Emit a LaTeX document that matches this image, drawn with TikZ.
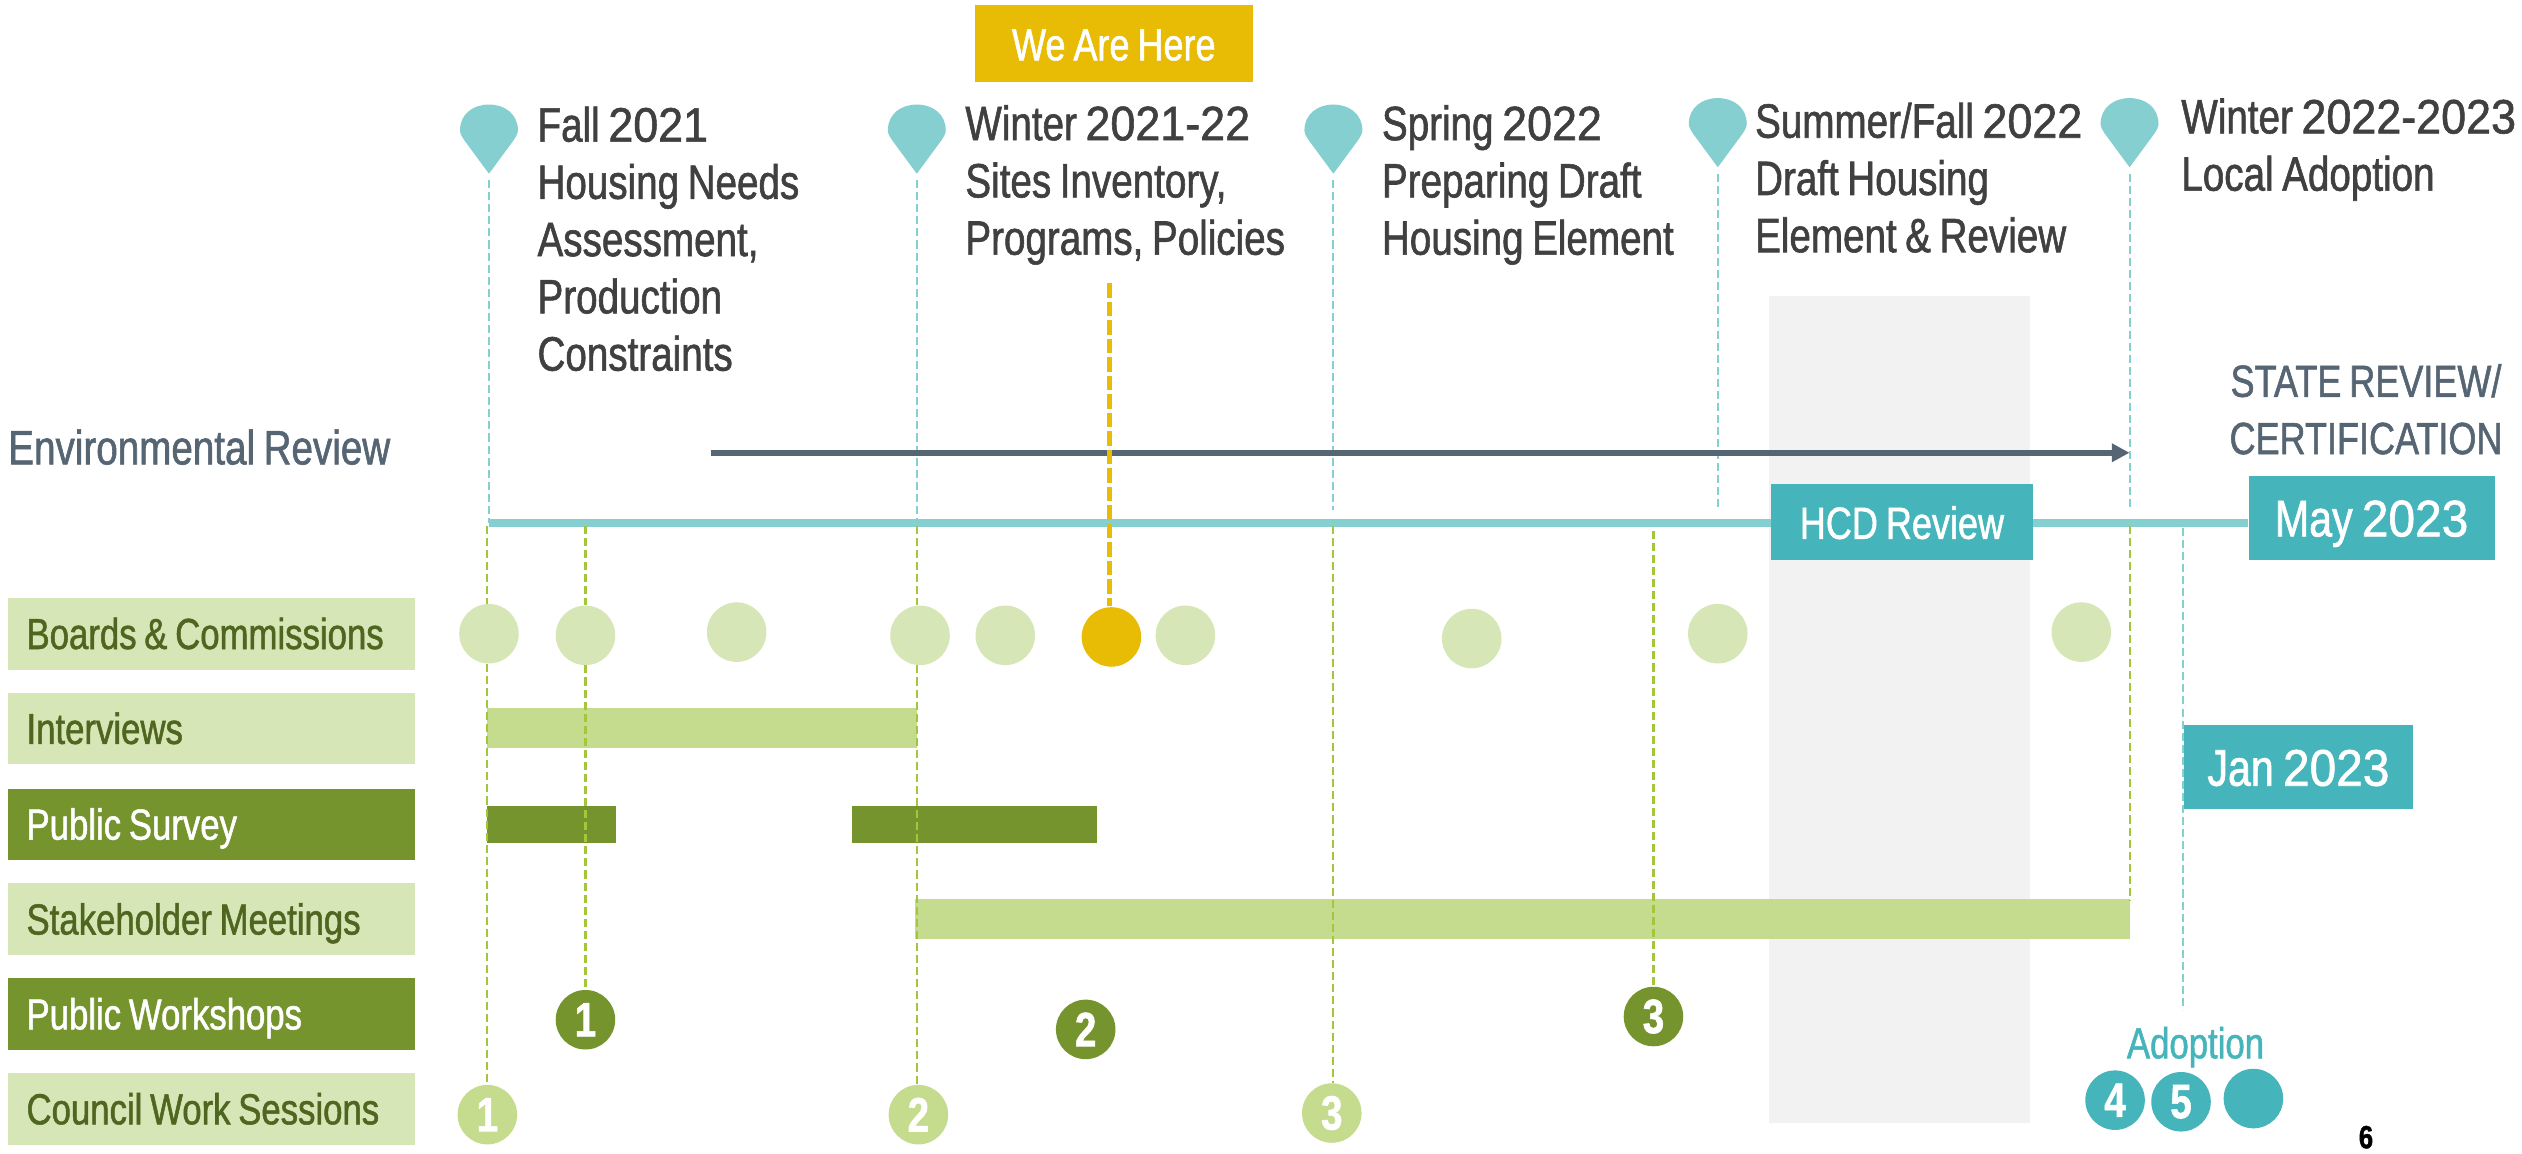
\documentclass[tikz,border=0pt]{standalone}
\usepackage{fontspec}
\setmainfont[FakeStretch=0.8,FakeBold=1.2,WordSpace=0.8]{Liberation Sans}
\newfontfamily\yearfont[FakeStretch=0.93,FakeBold=1.2]{Liberation Sans}
\newcommand{\yr}[1]{{\yearfont #1}}
\newcommand{\rowtext}[1]{\makebox[230pt][l]{#1}}
\usepackage{tikz}
\usetikzlibrary{arrows.meta}
\definecolor{pinteal}{HTML}{85CFD0}
\definecolor{boxteal}{HTML}{46B5BB}
\definecolor{slategrey}{HTML}{566573}
\definecolor{darktext}{HTML}{404040}
\definecolor{herebox}{HTML}{E8BC05}
\definecolor{palegreen}{HTML}{D7E6B6}
\definecolor{midgreen}{HTML}{C5DB8E}
\definecolor{darkgreen}{HTML}{76942D}
\definecolor{rowtext}{HTML}{4F6620}
\definecolor{limeline}{HTML}{A3C63C}
\tikzset{
  x=1pt,y=-1pt,
  phase/.style={anchor=west,align=left,inner sep=0,text=darktext,font=\fontsize{30}{35.6}\selectfont},
  rowlabel/.style={minimum width=253,minimum height=44.5,inner xsep=11.5,inner ysep=0,
    text height=19,text depth=0,font=\fontsize{27}{30}\selectfont},
  rowlight/.style={rowlabel,fill=palegreen,text=rowtext},
  rowdark/.style={rowlabel,fill=darkgreen,text=white},
  tealbox/.style={fill=boxteal,text=white,inner sep=0,text height=23,text depth=0,font=\fontsize{32}{36}\selectfont},
  dot/.style={circle,inner sep=0,minimum size=37,text=white,font=\fontsize{30}{30}\bfseries\selectfont},
  dotpale/.style={dot,fill=palegreen},
  dotmid/.style={dot,fill=midgreen},
  dotdark/.style={dot,fill=darkgreen},
  dotteal/.style={dot,fill=boxteal},
  tealdash/.style={pinteal,line width=1.3,dash pattern=on 5 off 2.5},
  limedash/.style={limeline,line width=1.3,dash pattern=on 5 off 2.5},
  greylabel/.style={inner sep=0,text=slategrey,font=\fontsize{28}{35.6}\selectfont},
  pinmark/.pic={
    \fill [pinteal] (0,0) -- (-14,-19) .. controls (-17,-23) and (-18,-25) .. (-18,-27)
      .. controls (-18,-37) and (-10,-43) .. (0,-43) .. controls (10,-43) and (18,-37) .. (18,-27)
      .. controls (18,-25) and (17,-23) .. (14,-19) -- cycle;
  }
}
\begin{document}
\begin{tikzpicture}
\path [use as bounding box,clip] (0,0) rectangle (1568,717);
\fill [fill=white] (0,0) rectangle (1568,717);
\fill [fill=black!5] (1100,184) rectangle (1262,698);
% timeline anchors
\coordinate (tick1) at (304,325);
\coordinate (tick2) at (570,325);
\coordinate (tick3) at (829,317);
\coordinate (tick4) at (1068,317);
\coordinate (tick5) at (1324,317);
\coordinate (top1) at (304,112);
\coordinate (top2) at (570,112);
\coordinate (top3) at (829,112);
\coordinate (top4) at (1068,108);
\coordinate (top5) at (1324,108);
\pic at (304,108) {pinmark};
\pic at (570,108) {pinmark};
\pic at (829,108) {pinmark};
\pic at (1068,104) {pinmark};
\pic at (1324,104) {pinmark};
\draw [tealdash] (top1) -- (tick1);
\draw [tealdash] (top2) -- (tick2);
\draw [tealdash] (top3) -- (tick3);
\draw [tealdash] (top4) -- (tick4);
\draw [tealdash] (top5) -- (tick5);
\node [phase] (fall) at (334,148.5) {Fall \yr{2021}\\Housing Needs\\Assessment,\\Production\\Constraints};
\node [phase] (winter) at (600,115) {Winter \yr{2021-22}\\Sites Inventory,\\Programs, Policies};
\node [phase] (spring) at (859,115) {Spring \yr{2022}\\Preparing Draft\\Housing Element};
\node [phase] (summer) at (1091,110.5) {Summer/Fall \yr{2022}\\Draft Housing\\Element \& Review};
\node [phase] (adopt) at (1356,93) {Winter \yr{2022-2023}\\Local Adoption};
\node [greylabel,anchor=west,font=\fontsize{30}{36}\selectfont] (env) at (5,278) {Environmental Review};
\node [greylabel,align=center] (state) at (1471,254.5) {STATE REVIEW/\\CERTIFICATION};
% boxes on the timeline
\node [tealbox,minimum width=163,minimum height=47,text height=21] (hcd) at (1182.5,324.5) {\fontsize{28}{30}\selectfont HCD Review};
\node [tealbox,minimum width=153,minimum height=52] (may) at (1474.5,322) {May \yr{2023}};
\node [tealbox,minimum width=142,minimum height=52] (jan) at (1429,477) {Jan \yr{2023}};
\node [fill=herebox,text=white,inner sep=0,minimum width=173,minimum height=48,text height=21,text depth=0,font=\fontsize{28}{30}\selectfont] (here) at (692.5,27) {We Are Here};
\coordinate (lineStart) at (304,325);
\coordinate (envStart) at (442,281.5);
\coordinate (envEnd) at (1324,281.5);
\draw [-{Triangle[length=11,width=11]},slategrey,line width=3.8] (envStart) -- (envEnd);
\draw [pinteal,line width=5] (lineStart) -- (lineStart -| hcd.west);
\draw [pinteal,line width=5] (lineStart -| hcd.east) -- (lineStart -| may.west);
% rows
\node [rowlight] (boards) at (131.5,394) {\rowtext{Boards \& Commissions}};
\node [rowlight] (interviews) at (131.5,453) {\rowtext{Interviews}};
\node [rowdark] (survey) at (131.5,512.5) {\rowtext{Public Survey}};
\node [rowlight] (stake) at (131.5,571.5) {\rowtext{Stakeholder Meetings}};
\node [rowdark] (workshops) at (131.5,630.5) {\rowtext{Public Workshops}};
\node [rowlight] (council) at (131.5,689.5) {\rowtext{Council Work Sessions}};
% bars
\fill [fill=midgreen] (303,440) rectangle (570,465);
\fill [fill=darkgreen] (303,501) rectangle (383,524);
\fill [fill=darkgreen] (530,501) rectangle (682,524);
\fill [fill=midgreen] (569,559) rectangle (1324,584);
% circles
\node [dotpale] (bc1) at (304,394) {};
\node [dotpale] (bc2) at (364,395) {};
\node [dotpale] (bc3) at (458,393) {};
\node [dotpale] (bc4) at (572,395) {};
\node [dotpale] (bc5) at (625,395) {};
\node [dot,fill=herebox] (bcnow) at (691,396) {};
\node [dotpale] (bc6) at (737,395) {};
\node [dotpale] (bc7) at (915,397) {};
\node [dotpale] (bc8) at (1068,394) {};
\node [dotpale] (bc9) at (1294,393) {};
\node [dotdark] (pw1) at (364,634) {1};
\node [dotdark] (pw2) at (675,640) {2};
\node [dotdark] (pw3) at (1028,632) {3};
\node [dotmid] (cw1) at (303,693) {1};
\node [dotmid] (cw2) at (571,693) {2};
\node [dotmid] (cw3) at (828,692) {3};
\node [dotteal] (ad4) at (1315,684) {4};
\node [dotteal] (ad5) at (1356,685) {5};
\node [dotteal] (ad6) at (1401,683) {};
\node [inner sep=0,text=boxteal,font=\fontsize{27}{30}\selectfont] (adlabel) at (1365,651) {Adoption};
\node [inner sep=0,font=\fontsize{20}{24}\bfseries\selectfont] (page) at (1471,707) {6};
% drop lines
\coordinate (base1) at (303,327);
\coordinate (base2) at (364,327);
\coordinate (base3) at (829,327);
\coordinate (base4) at (570,327);
\coordinate (base5) at (1324,327);
\coordinate (base6) at (1028,330);
\coordinate (adoptTop) at (1357,328);
\coordinate (adoptEnd) at (1357,628);
\coordinate (barEnd) at (1324,560);
\coordinate (hereEnd) at (690,377);
\coordinate (hereTop) at (690,176);
\draw [limedash] (base1) -- (base1 |- bc1.north);
\draw [limedash] (base1 |- bc1.south) -- (base1 |- cw1.north);
\draw [limedash] (base2) -- (base2 |- bc2.north);
\draw [limedash] (base2 |- bc2.south) -- (base2 |- pw1.north);
\draw [limedash] (base4) -- (base4 |- bc4.north);
\draw [limedash] (base4 |- bc4.south) -- (base4 |- cw2.north);
\draw [limedash] (base3) -- (base3 |- cw3.north);
\draw [limedash] (base6) -- (base6 |- pw3.north);
\draw [limedash] (base5) -- (barEnd);
\draw [tealdash] (adoptTop) -- (adoptEnd);
\draw [herebox,line width=3,dash pattern=on 9 off 2.5] (hereTop) -- (hereEnd);
\end{tikzpicture}
\end{document}
